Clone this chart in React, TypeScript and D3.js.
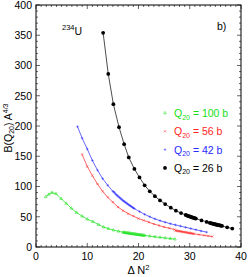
import React from 'react'
import * as d3 from 'd3'

// [ΔN², B(Q20) A^4/3]
const q26 = [
  [13.1, 354], [14.1, 286], [15.1, 236], [16.2, 198], [17.2, 170], [18.1, 148], [19.2, 129],
  [20.2, 115], [21.2, 102], [22.2, 92], [23.2, 84], [24.2, 77], [25.2, 71], [26.3, 65],
  [27.3, 60], [28.3, 56],
  [29.2, 53], [29.4, 52.3], [29.6, 51.6], [29.8, 51], [30.0, 50.4], [30.2, 49.8], [30.4, 49.2],
  [30.6, 48.6], [30.8, 48], [31.0, 47.5], [31.2, 47],
  [32.3, 44], [33.3, 41.5],
  [33.9, 40], [34.1, 39.5], [34.3, 39], [34.5, 38.5], [34.7, 38], [34.9, 37.6], [35.1, 37.2],
  [35.3, 36.8], [35.5, 36.4], [35.7, 36], [35.9, 35.6], [36.1, 35.2], [36.3, 34.8],
  [37.3, 32.5], [38.3, 30.5]
]

const q42 = [
  [8.1, 199], [9.0, 180], [10.0, 162], [11.0, 143], [12.0, 127], [13.0, 113], [14.0, 102], [15.0, 92],
  [15.2, 91], [15.4, 89], [15.6, 87], [15.8, 85.5], [16.0, 84], [16.2, 82.5], [16.4, 81],
  [16.6, 79.5], [16.8, 78], [17.0, 76.5], [17.2, 75.5], [17.4, 74], [17.6, 73], [17.8, 71.5],
  [18.0, 70.5], [18.2, 69], [18.4, 68], [18.6, 67], [18.8, 65.5], [19.0, 64.5], [19.2, 63.5],
  [20.2, 58.5], [21.2, 54], [22.2, 50], [23.2, 46.5], [24.2, 43.5], [25.2, 41], [26.2, 38.5],
  [27.2, 36.5], [28.2, 34.5], [29.2, 32.5], [30.2, 30.5], [31.2, 28.5], [32.2, 26.5], [33.3, 24.5]
]

const q56 = [
  [9.0, 153], [10.0, 133], [11.0, 118], [12.0, 104], [13.0, 92], [14.0, 82], [15.0, 74],
  [16.0, 66], [17.0, 60], [18.0, 55], [19.0, 51], [20.0, 47], [21.0, 44], [22.0, 41],
  [23.0, 38], [24.0, 35.5], [25.0, 33], [26.0, 31], [27.0, 29],
  [27.2, 27.2], [27.4, 26.9], [27.6, 26.6], [27.8, 26.3], [28.0, 26], [28.2, 25.7], [28.4, 25.4],
  [28.6, 25.1], [28.8, 24.8], [29.0, 24.5], [29.2, 24.2], [29.4, 23.9], [29.6, 23.6], [29.8, 23.3],
  [30.0, 23], [30.2, 22.7], [30.4, 22.4], [30.6, 22.1], [30.8, 21.8],
  [31.8, 20.5], [32.8, 19.2], [33.6, 18.2], [34.4, 17.3]
]

const q100 = [
  [1.9, 83], [2.5, 87], [3.1, 90], [3.9, 88], [4.9, 80], [5.9, 72], [6.9, 64], [7.9, 57],
  [9.0, 51], [10.0, 46], [11.1, 42], [12.2, 37], [13.2, 33], [14.1, 30.5], [15.1, 28],
  [16.1, 26], [17.0, 24.5],
  [17.2, 24], [17.4, 23.8], [17.6, 23.5], [17.8, 23.3], [18.0, 23], [18.2, 22.8], [18.4, 22.5],
  [18.6, 22.3], [18.8, 22], [19.0, 21.8], [19.2, 21.5], [19.4, 21.3], [19.6, 21], [19.8, 20.8],
  [20.0, 20.5], [20.2, 20.3], [20.4, 20], [20.6, 19.8], [20.8, 19.6], [21.0, 19.4],
  [21.2, 19.2], [22.2, 18], [23.2, 17], [24.2, 16], [25.2, 15], [26.2, 14], [27.1, 13]
]

const xTicks = [0, 10, 20, 30, 40]
const yTicks = [0, 50, 100, 150, 200, 250, 300, 350, 400]

const series = [
  { name: '100 b', data: q100, color: '#14e014', marker: 'tri' },
  { name: '56 b', data: q56, color: '#ff2424', marker: 'x' },
  { name: '42 b', data: q42, color: '#2828ff', marker: 'plus' },
  { name: '26 b', data: q26, color: '#000000', marker: 'dot' }
]

const W = 249
const H = 277
const m = { top: 5, right: 8, bottom: 30, left: 36 }
const font = 'Liberation Sans, Arial, sans-serif'

const Marker = ({ type, x, y, color }) => {
  if (type === 'dot') return <circle cx={x} cy={y} r={1.9} fill={color} />
  if (type === 'tri') {
    return <path d={`M${x},${y - 1.6}L${x + 1.4},${y + 0.9}L${x - 1.4},${y + 0.9}Z`} fill='none' stroke={color} strokeWidth={0.5} />
  }
  if (type === 'x') {
    return <path d={`M${x - 1.1},${y - 1.1}L${x + 1.1},${y + 1.1}M${x - 1.1},${y + 1.1}L${x + 1.1},${y - 1.1}`} stroke={color} strokeWidth={0.5} />
  }
  return <path d={`M${x - 1.3},${y}L${x + 1.3},${y}M${x},${y - 1.3}L${x},${y + 1.3}`} stroke={color} strokeWidth={0.5} />
}

const App = () => {
  const x = d3.scaleLinear().domain([0, 40]).range([m.left, W - m.right])
  const y = d3.scaleLinear().domain([0, 400]).range([H - m.bottom, m.top])

  const line = d3.line()
    .x(d => x(d[0]))
    .y(d => y(d[1]))

  const x0 = x(0)
  const x1 = x(40)
  const y0 = y(0)
  const y1 = y(400)

  const xMinor = d3.range(0, 41, 1)
  const yMinor = d3.range(0, 401, 10)

  return (
    <svg width={W} height={H} style={{ position: 'absolute', left: 0, top: 0, background: '#fff' }} fontFamily={font}>
      {/* minor ticks, inward on all four sides */}
      <g stroke='#000' strokeWidth={0.6}>
        {xMinor.map(v => {
          const len = v % 10 === 0 ? 4 : 2
          return (
            <g key={'xm' + v}>
              <line x1={x(v)} x2={x(v)} y1={y0} y2={y0 - len} />
              <line x1={x(v)} x2={x(v)} y1={y1} y2={y1 + len} />
            </g>
          )
        })}
        {yMinor.map(v => {
          const len = v % 50 === 0 ? 4 : 2
          return (
            <g key={'ym' + v}>
              <line x1={x0} x2={x0 + len} y1={y(v)} y2={y(v)} />
              <line x1={x1} x2={x1 - len} y1={y(v)} y2={y(v)} />
            </g>
          )
        })}
      </g>
      <rect x={x0} y={y1} width={x1 - x0} height={y0 - y1} fill='none' stroke='#000' strokeWidth={1} />

      {xTicks.map(v => (
        <text key={'xt' + v} x={x(v)} y={y0 + 13} textAnchor='middle' fontSize={10.5}>{v}</text>
      ))}
      {yTicks.map(v => (
        <text key={'yt' + v} x={x0 - 4} y={y(v) + 3.8} textAnchor='end' fontSize={10.5}>{v}</text>
      ))}

      <text x={(x0 + x1) / 2} y={H - 3} textAnchor='middle' fontSize={11}>
        Δ N<tspan dy={-4} fontSize={7.5}>2</tspan>
      </text>
      <text transform={`translate(11.5,${(y0 + y1) / 2 + 2}) rotate(-90)`} textAnchor='middle' fontSize={10.5}>
        B(Q<tspan dy={2.5} fontSize={7}>20</tspan><tspan dy={-2.5}>) A</tspan><tspan dy={-3.5} fontSize={7}>4/3</tspan>
      </text>

      <text x={62} y={35} fontSize={10.5}>
        <tspan dy={-5} fontSize={7.5}>234</tspan><tspan dy={5}>U</tspan>
      </text>
      <text x={217} y={30} fontSize={10.5}>b)</text>

      {series.map(s => (
        <g key={s.name}>
          <path d={line(s.data)} fill='none' stroke={s.color} strokeWidth={0.7} />
          {s.data.map((d, i) => (
            <Marker key={i} type={s.marker} x={x(d[0])} y={y(d[1])} color={s.color} />
          ))}
        </g>
      ))}

      {series.map((s, i) => {
        const ly = 113 + i * 18.3
        return (
          <g key={'lg' + s.name}>
            <Marker type={s.marker} x={165} y={ly} color={s.color} />
            <text x={174} y={ly + 4} fontSize={10.5} fill={s.color}>
              Q<tspan dy={2.5} fontSize={7}>20</tspan><tspan dy={-2.5}> = {s.name}</tspan>
            </text>
          </g>
        )
      })}
    </svg>
  )
}

export default App
